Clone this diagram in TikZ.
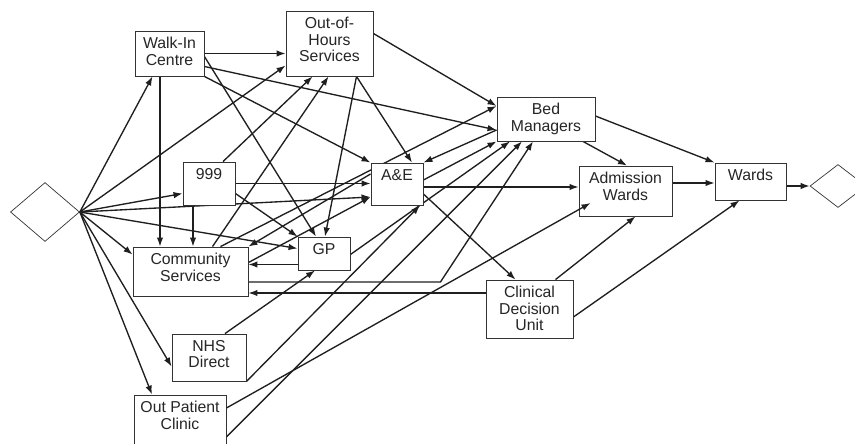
\documentclass[tikz,border=0pt]{standalone}
\usepackage{fontspec}
\setmainfont{Liberation Sans}
\usetikzlibrary{arrows.meta, shapes.geometric, backgrounds}
\tikzset{
	block/.style 2 args={rectangle, draw=black!80, fill=white, line width=0.9pt, minimum width=#1pt, minimum height=#2pt, inner sep=0pt},
	term/.style 2 args={diamond, draw=black!80, line width=0.7pt, minimum width=#1pt, minimum height=#2pt, inner sep=0pt},
	txt/.style={anchor=north, align=center, inner sep=0pt, yshift=-6.5pt, font=\fontsize{15.8}{16.4}\selectfont, text=black!85}
}
\begin{document}
\begin{tikzpicture}[
	% one unit is one pixel of the layout, y grows downwards
	x=1pt, y=-1pt,
	line/.style={-{Latex[length=9pt, width=6.5pt]}, line width=1.35pt, draw=black!88}
	]
	\useasboundingbox (0,0) rectangle (855,444);
	
	% === NODES ===
	\node[term={69}{59}] (start) at (45,212) {};
	\node[term={56}{43}] (stop) at (838,186) {};
	\node[block={69}{45}, label={[txt]north:Walk-In\\Centre}] (wic) at (169.5,53.5) {};
	\node[block={87}{65}, label={[txt]north:Out-of-\\Hours\\Services}] (ooh) at (329.5,43.5) {};
	\node[block={52}{43}, label={[txt]north:999}] (call) at (209,183.5) {};
	\node[block={52}{42}, label={[txt]north:A\&E}] (ae) at (397,184) {};
	\node[block={98}{44}, label={[txt]north:Bed\\Managers}] (bed) at (546,119) {};
	\node[block={93}{50}, label={[txt]north:Admission\\Wards}] (adm) at (625.5,191) {};
	\node[block={71}{37}, label={[txt]north:Wards}] (wards) at (750.5,181.5) {};
	\node[block={115}{49}, label={[txt]north:Community\\Services}] (comm) at (190.5,271.5) {};
	\node[block={52}{33}, label={[txt]north:GP}] (gp) at (324,253.5) {};
	\node[block={74}{47}, label={[txt]north:NHS\\Direct}] (nhs) at (209,357.5) {};
	\node[block={92}{60}, label={[txt]north:Out Patient\\Clinic}] (opc) at (180,425) {};
	\node[block={87}{58}, label={[txt]north:Clinical\\Decision\\Unit}] (cdu) at (529.5,309) {};
	
	% === CONNECTIONS ===
	\begin{pgfonlayer}{background}
		% from the entry point
		\draw[line] (start.east) -- ([xshift=-17pt]wic.south);
		\draw[line] (start.east) -- ([yshift=-22pt]ooh.west);
		\draw[line] (start.east) -- ([yshift=-10pt]call.west);
		\draw[line] (start.east) -- ([yshift=-13pt]ae.west);
		\draw[line] (start.east) -- ([yshift=-8pt]comm.north west);
		\draw[line] (start.east) -- ([yshift=5pt]gp.west);
		\draw[line] (start.east) -- ([yshift=-9pt]nhs.west);
		\draw[line] (start.east) -- ([xshift=-28pt]opc.north);
		
		% walk-in centre
		\draw[line] (wic.east) -- (wic.east -| ooh.west);
		\draw[line] ([xshift=-9.5pt]wic.south) -- ([xshift=-9.5pt]wic.south |- comm.north);
		\draw[line] (wic.south east) -- (ae.north west);
		\draw[line] ([yshift=-13pt]wic.east) -- ([yshift=-11pt]bed.west);
		\draw[line] ([yshift=-3pt]wic.east) -- ([xshift=-8pt]gp.north);
		
		% out-of-hours
		\draw[line] ([yshift=10pt]ooh.east) -- ([yshift=13pt]bed.west);
		\draw[line] ([xshift=27pt]ooh.south) -- ([xshift=15pt]ae.north);
		\draw[line] ([xshift=27pt]ooh.south) -- ([xshift=1pt]gp.north);
		
		% 999
		\draw[line] (call.east) -- (call.east -| ae.west);
		\draw[line] ([xshift=-16pt]call.south) -- ([xshift=-16pt]call.south |- comm.north);
		\draw[line] ([xshift=14pt]call.north) -- ([xshift=-17pt]ooh.south);
		\draw[line] ([yshift=-10pt]call.east) -- (gp.north west);
		
		% A&E
		\draw[line] ([yshift=-3pt]ae.east) -- ([yshift=-3pt]ae.east -| adm.west);
		\draw[line] ([yshift=-10pt]ae.east) -- ([xshift=-14pt]cdu.north);
		\draw[line] ([yshift=4pt]ae.east) -- (bed.south west);
		\draw[line] ([yshift=10pt]ae.west) -- (comm.north east);
		\draw[line] ([yshift=-11pt]bed.west) -- (ae.north east);
		
		% community services
		\draw[line] ([xshift=22pt]comm.north) -- ([xshift=-1pt]ooh.south);
		\draw[line] ([xshift=30pt]comm.north) -- ([yshift=13pt]bed.west);
		\draw[line] ([yshift=9pt]comm.east) -- ([yshift=-13pt]ae.west);
		\draw[line] ([yshift=-10.5pt]comm.east) -- ++(192,0) -- ([xshift=-13pt]bed.south);
		
		% GP
		\draw[line] ([yshift=-11pt]gp.west) -- ([yshift=-11pt]gp.west -| comm.east);
		\draw[line] ([yshift=-1pt]gp.east) -- ([xshift=-36pt]bed.south);
		
		% NHS Direct
		\draw[line] ([xshift=16pt]nhs.north) -- ([xshift=-9pt]gp.south);
		\draw[line] (nhs.south east) -- ([xshift=23pt]ae.south);
		
		% out patient clinic
		\draw[line] ([yshift=-12pt]opc.east) -- ([xshift=-24pt]bed.south);
		
		% clinical decision unit
		\draw[line] ([yshift=16pt]cdu.west) -- ([yshift=16pt]cdu.west -| comm.east);
		\draw[line] ([xshift=26pt]cdu.north) -- ([xshift=10pt]adm.south);
		\draw[line] ([yshift=-8pt]cdu.east) -- ([xshift=-11pt]wards.south);
		
		% bed managers and wards
		\draw[line] ([xshift=37pt]bed.south) -- ([xshift=1.5pt]adm.north);
		\draw[line] ([yshift=3pt]bed.east) -- (wards.north west);
		\draw[line] ([yshift=8pt]adm.east) -- ([yshift=8pt]adm.east -| wards.west);
		\draw[line] (wards.east |- stop.west) -- (stop.west);
	\end{pgfonlayer}
	
	% this one runs into the box
	\draw[line] ([yshift=17pt]opc.east) -- ([xshift=-35pt, yshift=-12pt]adm.center);
\end{tikzpicture}
\end{document}
